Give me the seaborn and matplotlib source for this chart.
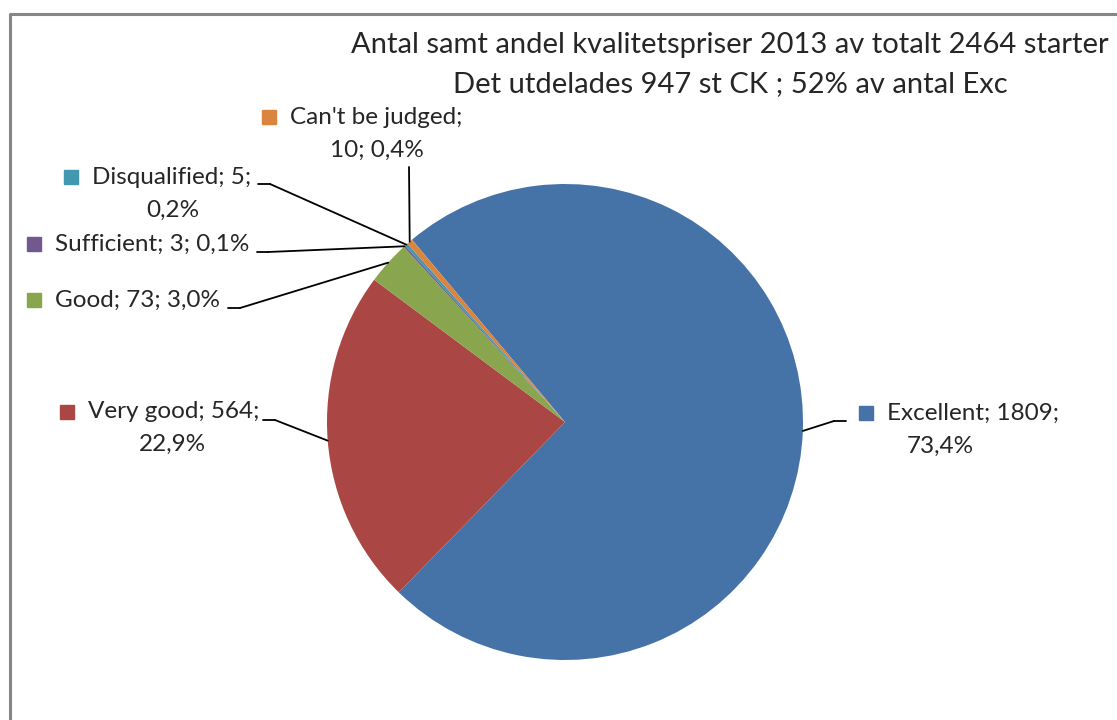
import numpy as np
import matplotlib
matplotlib.use("Agg")
import matplotlib.pyplot as plt
import seaborn as sns

sns.set_style("white")
plt.rcParams['font.family'] = ['Lato', 'DejaVu Sans']

categories = ["Excellent", "Very good", "Good", "Sufficient", "Disqualified", "Can't be judged"]
counts = [1809, 564, 73, 3, 5, 10]
percents = ["73,4%", "22,9%", "3,0%", "0,1%", "0,2%", "0,4%"]
colors = ['#4572A7', '#AA4643', '#89A54E', '#71588F', '#4198AF', '#DB843D']

title_lines = ["Antal samt andel kvalitetspriser 2013 av totalt 2464 starter",
               "Det utdelades 947 st CK ; 52% av antal Exc"]

# label layout in pixels: marker pos, parts kept on line 1, line-2 centre, leader elbow
layout = {
    "Excellent": dict(mk=(866, 413), keep=2, two=(940, 446), elbow=[(846, 421), (834, 421)]),
    "Very good": dict(mk=(67, 412), keep=2, two=(172, 444), elbow=[(263, 420), (275, 420)]),
    "Good": dict(mk=(34, 300), keep=3, two=None, elbow=[(228, 308), (240, 308)]),
    "Sufficient": dict(mk=(34, 244), keep=3, two=None, elbow=[(257, 252), (268, 252)]),
    "Disqualified": dict(mk=(71, 177), keep=2, two=(173, 210), elbow=[(258, 184), (270, 184)]),
    "Can't be judged": dict(mk=(269, 117), keep=1, two=(377, 150), elbow=[(409, 167), (409, 167)]),
}

W, H = 1117, 720
FS = 17.5


def main():
    fig = plt.figure(figsize=(W / 100, H / 100), dpi=100)
    ov = fig.add_axes([0, 0, 1, 1])
    ov.set_xlim(0, W)
    ov.set_ylim(H, 0)
    ov.axis('off')

    cx, cy, R = 565, 422, 238
    ax = fig.add_axes([(cx - R) / W, (H - cy - R) / H, 2 * R / W, 2 * R / H])
    wedges, _ = ax.pie(counts, colors=colors, startangle=130, counterclock=False,
                       radius=1, wedgeprops=dict(linewidth=0))
    ax.set_xlim(-1, 1)
    ax.set_ylim(-1, 1)
    ax.axis('off')

    # border
    ov.plot([10, 10, W], [H, 14, 14], color='#868686', lw=2.2, solid_capstyle='butt')

    ov.text(730, 45, title_lines[0], ha='center', va='center', fontsize=21)
    ov.text(730, 84, title_lines[1], ha='center', va='center', fontsize=21)

    for w, cat, n, pct, col in zip(wedges, categories, counts, percents, colors):
        lay = layout[cat]
        mx, my = lay['mk']
        parts = [cat, str(n), pct]
        k = lay['keep']
        ov.plot(mx, my, marker='s', ms=10.5, color=col, ls='none')
        if k == 3:
            ov.text(mx + 21, my, "; ".join(parts), ha='left', va='center', fontsize=FS)
        else:
            ov.text(mx + 21, my, "; ".join(parts[:k]) + ";", ha='left', va='center', fontsize=FS)
            tx, ty = lay['two']
            ov.text(tx, ty, "; ".join(parts[k:]), ha='center', va='center', fontsize=FS)
        (x0, y0), (x1, y1) = lay['elbow']
        ov.plot([x0, x1], [y0, y1], color='black', lw=1.3)
        mid = np.deg2rad((w.theta1 + w.theta2) / 2)
        ax.annotate("", xy=(np.cos(mid), np.sin(mid)), xycoords='data',
                    xytext=(x1, H - y1), textcoords='figure pixels',
                    arrowprops=dict(arrowstyle='-', color='black', lw=1.3,
                                    shrinkA=0, shrinkB=0))

    fig.savefig('out.png', dpi=100, facecolor='white')


if __name__ == '__main__':
    main()
